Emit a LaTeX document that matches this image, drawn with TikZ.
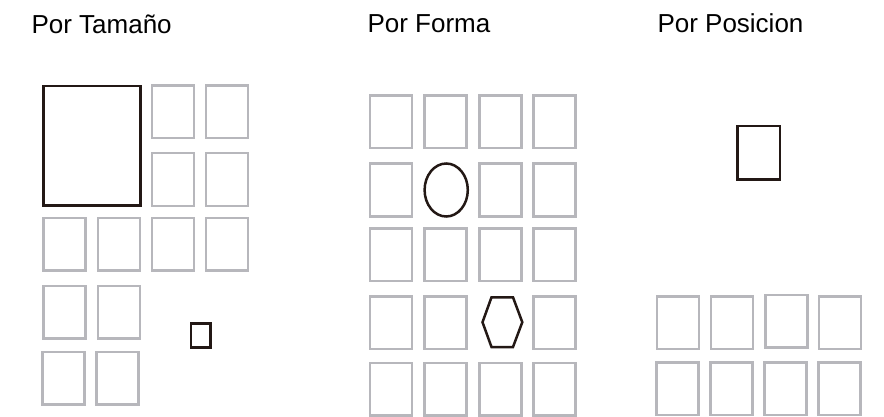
\documentclass[tikz,border=0pt]{standalone}
\usepackage{fontspec}
\setmainfont{Liberation Sans}
\definecolor{cellgray}{RGB}{183,183,188}
\definecolor{inkblack}{RGB}{35,24,21}
\tikzset{
  cell/.style={draw=cellgray, line width=2.5pt, minimum width=42pt, minimum height=52.5pt, inner sep=0pt, outer sep=0pt},
  mark box/.style={draw=inkblack, line width=2.5pt, inner sep=0pt, outer sep=0pt},
  title/.style={anchor=base west, inner sep=0pt, font=\fontsize{26}{30}\selectfont, text=black}
}
\begin{document}
\begin{tikzpicture}[x=1pt,y=-1pt]
\useasboundingbox (0,0) rectangle (884,417);
% titles
\node[title] (t1) at (31.3,34) {Por Tamaño};
\node[title] (t2) at (367.3,32.3) {Por Forma};
\node[title] (t3) at (657.3,32.3) {Por Posicion};
% --- Por Tamano ---
\node[mark box, minimum width=97.2pt, minimum height=119.3pt] (big) at (91.85,145.85) {};
\node[cell] (a1) at (172.9,111.7) {};
\node[cell] (a2) at (226.8,111.7) {};
\node[cell] (b1) at (172.9,179.5) {};
\node[cell] (b2) at (226.8,179.5) {};
\node[cell] (c1) at (64.5,244.2) {};
\node[cell] (c2) at (118.9,244.2) {};
\node[cell] (c3) at (172.9,244.2) {};
\node[cell] (c4) at (226.8,244.2) {};
\node[cell] (d1) at (64.5,312.2) {};
\node[cell] (d2) at (118.9,312.2) {};
\node[cell] (e1) at (63.5,378) {};
\node[cell] (e2) at (117.5,378) {};
\node[mark box, minimum width=19.2pt, minimum height=23.9pt] (small) at (200.8,335.5) {};
% --- Por Forma ---
\foreach \c/\x in {1/391.2,2/445.5,3/500.3,4/554.5}{
  \foreach \r/\y in {1/121.8,2/190,3/254.5,4/322.5,5/389}{
    \ifnum\r=2 \ifnum\c=2 \else \node[cell] (f\r\c) at (\x,\y) {}; \fi
    \else\ifnum\r=4 \ifnum\c=3 \else \node[cell] (f\r\c) at (\x,\y) {}; \fi
    \else \node[cell] (f\r\c) at (\x,\y) {};
    \fi\fi
  }
}
\draw[inkblack, line width=2.5pt] (446.2,190) ellipse [x radius=21.6, y radius=26.5];
\draw[inkblack, line width=2.5pt, line join=miter]
  (491.5,297.3) -- (513,297.3) -- (522.3,322.2) -- (513,347) -- (491.5,347) -- (482.5,322.2) -- cycle;
% --- Por Posicion ---
\node[mark box, minimum width=42.5pt, minimum height=53.2pt] (pos) at (758.5,152.8) {};
\node[cell] (p11) at (677.8,322.5) {};
\node[cell] (p12) at (732.2,322.5) {};
\node[cell] (p13) at (786.7,321.3) {};
\node[cell] (p14) at (840,322.5) {};
\node[cell] (p21) at (677.5,388.9) {};
\node[cell] (p22) at (731.7,388.9) {};
\node[cell] (p23) at (785.5,388.9) {};
\node[cell] (p24) at (839.7,388.9) {};
\end{tikzpicture}
\end{document}
